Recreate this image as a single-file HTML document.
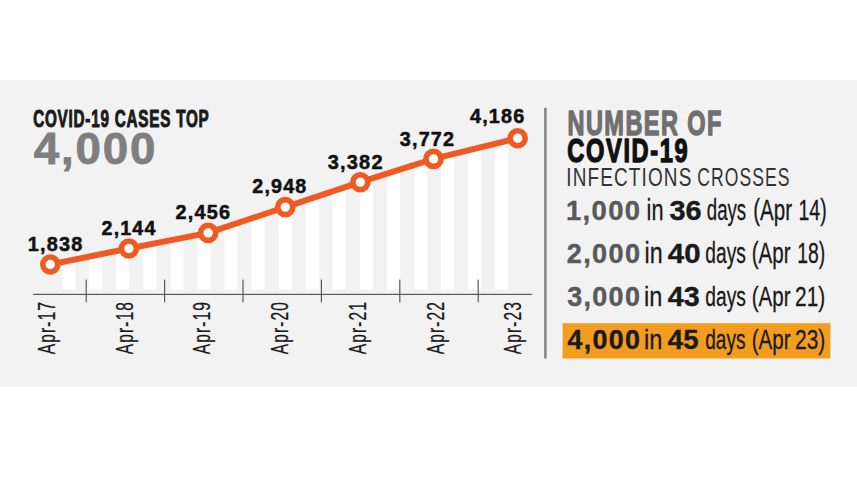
<!DOCTYPE html>
<html><head><meta charset="utf-8"><style>
html,body{margin:0;padding:0;background:#ffffff;overflow:hidden;width:857px;height:482px;}
svg{display:block;font-family:"Liberation Sans",sans-serif;}
</style></head><body>
<svg width="857" height="482" viewBox="0 0 857 482">
<rect x="0" y="80" width="857" height="306.5" fill="#f2f2f2"/>
<rect x="62.20" y="260.65" width="13.0" height="28.65" fill="#ffffff"/>
<rect x="89.26" y="255.14" width="13.0" height="34.16" fill="#ffffff"/>
<rect x="116.32" y="249.64" width="13.0" height="39.66" fill="#ffffff"/>
<rect x="143.38" y="244.27" width="13.0" height="45.03" fill="#ffffff"/>
<rect x="170.44" y="238.95" width="13.0" height="50.35" fill="#ffffff"/>
<rect x="197.50" y="233.63" width="13.0" height="55.67" fill="#ffffff"/>
<rect x="224.56" y="225.08" width="13.0" height="64.22" fill="#ffffff"/>
<rect x="251.62" y="216.03" width="13.0" height="73.27" fill="#ffffff"/>
<rect x="278.68" y="206.97" width="13.0" height="82.33" fill="#ffffff"/>
<rect x="305.74" y="197.99" width="13.0" height="91.31" fill="#ffffff"/>
<rect x="332.80" y="189.01" width="13.0" height="100.29" fill="#ffffff"/>
<rect x="359.86" y="180.11" width="13.0" height="109.19" fill="#ffffff"/>
<rect x="386.92" y="171.50" width="13.0" height="117.80" fill="#ffffff"/>
<rect x="413.98" y="162.89" width="13.0" height="126.41" fill="#ffffff"/>
<rect x="441.04" y="155.34" width="13.0" height="133.96" fill="#ffffff"/>
<rect x="468.10" y="148.72" width="13.0" height="140.58" fill="#ffffff"/>
<rect x="495.16" y="142.10" width="13.0" height="147.20" fill="#ffffff"/>
<rect x="33" y="293.8" width="499" height="1.2" fill="#5a5a5a"/>
<rect x="85.60" y="279.6" width="1.2" height="22.8" fill="#5a5a5a"/>
<rect x="164.00" y="279.6" width="1.2" height="22.8" fill="#5a5a5a"/>
<rect x="242.40" y="279.6" width="1.2" height="22.8" fill="#5a5a5a"/>
<rect x="320.80" y="279.6" width="1.2" height="22.8" fill="#5a5a5a"/>
<rect x="399.20" y="279.6" width="1.2" height="22.8" fill="#5a5a5a"/>
<rect x="477.60" y="279.6" width="1.2" height="22.8" fill="#5a5a5a"/>
<polyline points="50.3,264.5 128.9,248.5 208.2,232.9 285.3,207.1 360.3,182.2 433.5,158.9 517.7,138.3" fill="none" stroke="#F05A22" stroke-width="6" stroke-linejoin="round"/>
<circle cx="50.3" cy="264.5" r="7.5" fill="#ffffff" stroke="#F05A22" stroke-width="5.6"/>
<circle cx="128.9" cy="248.5" r="7.5" fill="#ffffff" stroke="#F05A22" stroke-width="5.6"/>
<circle cx="208.2" cy="232.9" r="7.5" fill="#ffffff" stroke="#F05A22" stroke-width="5.6"/>
<circle cx="285.3" cy="207.1" r="7.5" fill="#ffffff" stroke="#F05A22" stroke-width="5.6"/>
<circle cx="360.3" cy="182.2" r="7.5" fill="#ffffff" stroke="#F05A22" stroke-width="5.6"/>
<circle cx="433.5" cy="158.9" r="7.5" fill="#ffffff" stroke="#F05A22" stroke-width="5.6"/>
<circle cx="517.7" cy="138.3" r="7.5" fill="#ffffff" stroke="#F05A22" stroke-width="5.6"/>
<rect x="544.1" y="107.8" width="2.6" height="250.8" fill="#878787"/>
<rect x="562.6" y="323.2" width="267.8" height="35.3" fill="#F39D1E"/>
<text x="33.19" y="126.80" font-size="23.26" font-weight="bold" fill="#1a1a1a" textLength="176.35" lengthAdjust="spacingAndGlyphs" letter-spacing="1.163" stroke="#1a1a1a" stroke-width="1.0" stroke-linejoin="round">COVID-19 CASES TOP</text>
<text x="33.71" y="164.40" font-size="45.14" font-weight="bold" fill="#7f7f7f" textLength="123.66" lengthAdjust="spacingAndGlyphs" letter-spacing="1.806" stroke="#7f7f7f" stroke-width="0.8" stroke-linejoin="round">4,000</text>
<text x="27.65" y="251.25" font-size="19.86" font-weight="bold" fill="#111111" textLength="55.84" lengthAdjust="spacingAndGlyphs" letter-spacing="1.191" stroke="#111111" stroke-width="0.5" stroke-linejoin="round">1,838</text>
<text x="101.56" y="235.25" font-size="19.86" font-weight="bold" fill="#111111" textLength="55.01" lengthAdjust="spacingAndGlyphs" letter-spacing="1.191" stroke="#111111" stroke-width="0.5" stroke-linejoin="round">2,144</text>
<text x="175.56" y="219.25" font-size="19.86" font-weight="bold" fill="#111111" textLength="55.63" lengthAdjust="spacingAndGlyphs" letter-spacing="1.191" stroke="#111111" stroke-width="0.5" stroke-linejoin="round">2,456</text>
<text x="252.26" y="193.45" font-size="19.86" font-weight="bold" fill="#111111" textLength="55.21" lengthAdjust="spacingAndGlyphs" letter-spacing="1.191" stroke="#111111" stroke-width="0.5" stroke-linejoin="round">2,948</text>
<text x="327.75" y="169.45" font-size="19.86" font-weight="bold" fill="#111111" textLength="55.95" lengthAdjust="spacingAndGlyphs" letter-spacing="1.191" stroke="#111111" stroke-width="0.5" stroke-linejoin="round">3,382</text>
<text x="399.75" y="145.85" font-size="20.00" font-weight="bold" fill="#111111" textLength="55.53" lengthAdjust="spacingAndGlyphs" letter-spacing="1.200" stroke="#111111" stroke-width="0.5" stroke-linejoin="round">3,772</text>
<text x="469.95" y="122.95" font-size="20.00" font-weight="bold" fill="#111111" textLength="55.63" lengthAdjust="spacingAndGlyphs" letter-spacing="1.200" stroke="#111111" stroke-width="0.5" stroke-linejoin="round">4,186</text>
<text stroke="#1a1a1a" stroke-width="0.25" letter-spacing="1.719" transform="translate(55.00,354.28) rotate(-90)" font-size="24.56" font-weight="normal" fill="#1a1a1a" textLength="53.38" lengthAdjust="spacingAndGlyphs">Apr-17</text>
<text stroke="#1a1a1a" stroke-width="0.25" letter-spacing="1.719" transform="translate(132.70,354.28) rotate(-90)" font-size="24.56" font-weight="normal" fill="#1a1a1a" textLength="53.21" lengthAdjust="spacingAndGlyphs">Apr-18</text>
<text stroke="#1a1a1a" stroke-width="0.25" letter-spacing="1.719" transform="translate(210.40,354.28) rotate(-90)" font-size="24.56" font-weight="normal" fill="#1a1a1a" textLength="53.29" lengthAdjust="spacingAndGlyphs">Apr-19</text>
<text stroke="#1a1a1a" stroke-width="0.25" letter-spacing="1.719" transform="translate(288.10,354.28) rotate(-90)" font-size="24.56" font-weight="normal" fill="#1a1a1a" textLength="53.21" lengthAdjust="spacingAndGlyphs">Apr-20</text>
<text stroke="#1a1a1a" stroke-width="0.25" letter-spacing="1.719" transform="translate(365.80,354.28) rotate(-90)" font-size="24.56" font-weight="normal" fill="#1a1a1a" textLength="53.38" lengthAdjust="spacingAndGlyphs">Apr-21</text>
<text stroke="#1a1a1a" stroke-width="0.25" letter-spacing="1.719" transform="translate(443.50,354.28) rotate(-90)" font-size="24.56" font-weight="normal" fill="#1a1a1a" textLength="53.38" lengthAdjust="spacingAndGlyphs">Apr-22</text>
<text stroke="#1a1a1a" stroke-width="0.25" letter-spacing="1.719" transform="translate(521.20,354.28) rotate(-90)" font-size="24.56" font-weight="normal" fill="#1a1a1a" textLength="53.29" lengthAdjust="spacingAndGlyphs">Apr-23</text>
<text x="567.57" y="134.70" font-size="34.88" font-weight="bold" fill="#707070" textLength="155.17" lengthAdjust="spacingAndGlyphs" letter-spacing="2.093" stroke="#707070" stroke-width="1.4" stroke-linejoin="round">NUMBER OF</text>
<text x="567.36" y="162.10" font-size="32.85" font-weight="bold" fill="#111111" textLength="121.98" lengthAdjust="spacingAndGlyphs" letter-spacing="2.299" stroke="#111111" stroke-width="1.4" stroke-linejoin="round">COVID-19</text>
<text x="566.29" y="185.70" font-size="25.44" font-weight="normal" fill="#333333" textLength="126.21" lengthAdjust="spacingAndGlyphs" letter-spacing="1.526">INFECTIONS</text>
<text x="697.32" y="185.70" font-size="25.44" font-weight="normal" fill="#333333" textLength="93.12" lengthAdjust="spacingAndGlyphs" letter-spacing="1.526">CROSSES</text>
<text x="566.02" y="220.10" font-size="27.43" font-weight="bold" fill="#58595b" textLength="75.31" lengthAdjust="spacingAndGlyphs" letter-spacing="1.371" stroke="#58595b" stroke-width="0.4" stroke-linejoin="round">1,000</text>
<text x="646.59" y="220.30" font-size="28.92" font-weight="normal" fill="#1a1a1a" textLength="16.89" lengthAdjust="spacingAndGlyphs" stroke="#1a1a1a" stroke-width="0.3" stroke-linejoin="round">in</text>
<text x="669.48" y="220.10" font-size="27.43" font-weight="bold" fill="#1a1a1a" textLength="32.10" lengthAdjust="spacingAndGlyphs" stroke="#1a1a1a" stroke-width="0.4" stroke-linejoin="round">36</text>
<text x="706.75" y="220.30" font-size="28.92" font-weight="normal" fill="#1a1a1a" textLength="39.44" lengthAdjust="spacingAndGlyphs" stroke="#1a1a1a" stroke-width="0.3" stroke-linejoin="round">days</text>
<text x="753.17" y="220.30" font-size="28.92" font-weight="normal" fill="#1a1a1a" textLength="38.83" lengthAdjust="spacingAndGlyphs" stroke="#1a1a1a" stroke-width="0.3" stroke-linejoin="round">(Apr</text>
<text x="798.54" y="220.30" font-size="28.92" font-weight="normal" fill="#1a1a1a" textLength="28.13" lengthAdjust="spacingAndGlyphs" stroke="#1a1a1a" stroke-width="0.3" stroke-linejoin="round">14)</text>
<text x="566.85" y="263.20" font-size="26.86" font-weight="bold" fill="#58595b" textLength="74.45" lengthAdjust="spacingAndGlyphs" letter-spacing="1.343" stroke="#58595b" stroke-width="0.4" stroke-linejoin="round">2,000</text>
<text x="644.49" y="263.30" font-size="28.92" font-weight="normal" fill="#1a1a1a" textLength="18.10" lengthAdjust="spacingAndGlyphs" stroke="#1a1a1a" stroke-width="0.3" stroke-linejoin="round">in</text>
<text x="667.86" y="263.20" font-size="26.86" font-weight="bold" fill="#1a1a1a" textLength="32.68" lengthAdjust="spacingAndGlyphs" stroke="#1a1a1a" stroke-width="0.4" stroke-linejoin="round">40</text>
<text x="705.33" y="263.30" font-size="28.92" font-weight="normal" fill="#1a1a1a" textLength="40.59" lengthAdjust="spacingAndGlyphs" stroke="#1a1a1a" stroke-width="0.3" stroke-linejoin="round">days</text>
<text x="751.67" y="263.30" font-size="28.92" font-weight="normal" fill="#1a1a1a" textLength="38.83" lengthAdjust="spacingAndGlyphs" stroke="#1a1a1a" stroke-width="0.3" stroke-linejoin="round">(Apr</text>
<text x="797.15" y="263.30" font-size="28.92" font-weight="normal" fill="#1a1a1a" textLength="28.02" lengthAdjust="spacingAndGlyphs" stroke="#1a1a1a" stroke-width="0.3" stroke-linejoin="round">18)</text>
<text x="567.13" y="306.00" font-size="27.14" font-weight="bold" fill="#58595b" textLength="74.17" lengthAdjust="spacingAndGlyphs" letter-spacing="1.357" stroke="#58595b" stroke-width="0.4" stroke-linejoin="round">3,000</text>
<text x="643.97" y="306.30" font-size="28.20" font-weight="normal" fill="#1a1a1a" textLength="18.34" lengthAdjust="spacingAndGlyphs" stroke="#1a1a1a" stroke-width="0.3" stroke-linejoin="round">in</text>
<text x="667.87" y="306.00" font-size="27.14" font-weight="bold" fill="#1a1a1a" textLength="31.90" lengthAdjust="spacingAndGlyphs" stroke="#1a1a1a" stroke-width="0.4" stroke-linejoin="round">43</text>
<text x="705.33" y="306.30" font-size="28.20" font-weight="normal" fill="#1a1a1a" textLength="40.59" lengthAdjust="spacingAndGlyphs" stroke="#1a1a1a" stroke-width="0.3" stroke-linejoin="round">days</text>
<text x="751.67" y="306.30" font-size="28.20" font-weight="normal" fill="#1a1a1a" textLength="38.83" lengthAdjust="spacingAndGlyphs" stroke="#1a1a1a" stroke-width="0.3" stroke-linejoin="round">(Apr</text>
<text x="795.05" y="306.30" font-size="28.20" font-weight="normal" fill="#1a1a1a" textLength="30.21" lengthAdjust="spacingAndGlyphs" stroke="#1a1a1a" stroke-width="0.3" stroke-linejoin="round">21)</text>
<text x="567.40" y="349.00" font-size="26.86" font-weight="bold" fill="#1a1a1a" textLength="73.89" lengthAdjust="spacingAndGlyphs" letter-spacing="1.343" stroke="#1a1a1a" stroke-width="0.4" stroke-linejoin="round">4,000</text>
<text x="643.97" y="348.80" font-size="28.05" font-weight="normal" fill="#1a1a1a" textLength="18.34" lengthAdjust="spacingAndGlyphs" stroke="#1a1a1a" stroke-width="0.3" stroke-linejoin="round">in</text>
<text x="667.89" y="349.00" font-size="27.25" font-weight="bold" fill="#1a1a1a" textLength="30.67" lengthAdjust="spacingAndGlyphs" stroke="#1a1a1a" stroke-width="0.4" stroke-linejoin="round">45</text>
<text x="705.24" y="348.80" font-size="28.05" font-weight="normal" fill="#1a1a1a" textLength="40.17" lengthAdjust="spacingAndGlyphs" stroke="#1a1a1a" stroke-width="0.3" stroke-linejoin="round">days</text>
<text x="751.67" y="348.80" font-size="28.05" font-weight="normal" fill="#1a1a1a" textLength="38.83" lengthAdjust="spacingAndGlyphs" stroke="#1a1a1a" stroke-width="0.3" stroke-linejoin="round">(Apr</text>
<text x="795.05" y="348.80" font-size="28.05" font-weight="normal" fill="#1a1a1a" textLength="30.21" lengthAdjust="spacingAndGlyphs" stroke="#1a1a1a" stroke-width="0.3" stroke-linejoin="round">23)</text>
</svg>
</body></html>
